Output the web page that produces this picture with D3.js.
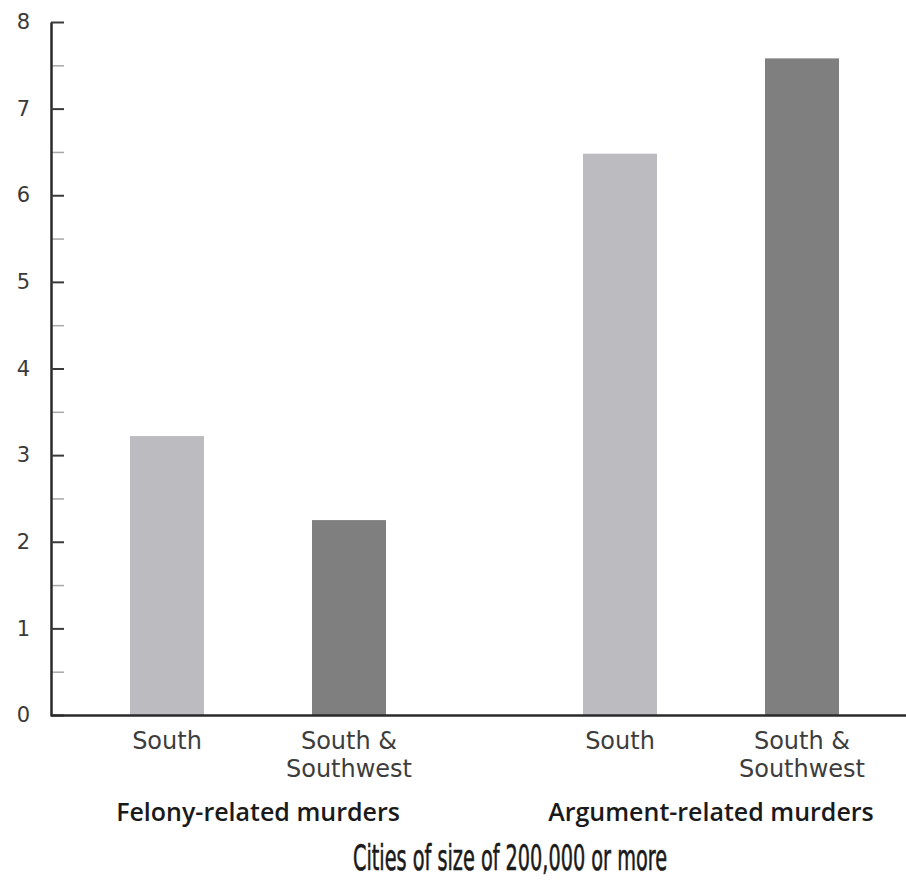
<!DOCTYPE html>
<html><head><meta charset="utf-8">
<script src="https://cdn.jsdelivr.net/npm/d3@7"></script>
<style>body{margin:0;background:#fff;} svg{display:block;}</style>
</head><body>
<svg id="c" width="906" height="890"></svg>
<script>
const groups = ["Felony-related murders", "Argument-related murders"];
const regions = ["South", "South & Southwest"];
const regionLines = [["South"], ["South &", "Southwest"]];
const felonyValues = [3.22, 2.25];
const argumentValues = [6.48, 7.58];
const majorTicks = [0, 1, 2, 3, 4, 5, 6, 7, 8];
const minorTicks = [0.5, 1.5, 2.5, 3.5, 4.5, 5.5, 6.5, 7.5];
const xTitle = "Cities of size of 200,000 or more";
const colors = ["#bcbcc0", "#7f7f7f"];

const seriesByGroup = [felonyValues, argumentValues];
const data = [];
groups.forEach((g, gi) => regions.forEach((r, ri) => data.push({g, r, ri, v: seriesByGroup[gi][ri]})));

const svg = d3.select("#c");
const axisX = 51, baseY = 715, topY = 22;
const y = d3.scaleLinear().domain([0, 8]).range([baseY, topY]);
const x0 = d3.scalePoint().domain(groups).range([258, 711]);
const x1 = d3.scalePoint().domain(regions).range([-91, 91]);
const barW = 74;
const font = "'DejaVu Sans', sans-serif";

svg.selectAll("rect.bar").data(data).join("rect")
  .attr("class", "bar")
  .attr("x", d => x0(d.g) + x1(d.r) - barW / 2)
  .attr("width", barW)
  .attr("y", d => y(d.v))
  .attr("height", d => y(0) - y(d.v))
  .attr("fill", d => colors[d.ri]);

// minor ticks
const minor = svg.append("g").attr("transform", `translate(${axisX},0)`)
  .call(d3.axisLeft(y).tickValues(minorTicks).tickSizeInner(-13).tickSizeOuter(0).tickFormat(""));
minor.select(".domain").remove();
minor.selectAll("line").attr("stroke", "#a8a8a8").attr("stroke-width", 1.5);

const major = svg.append("g").attr("transform", `translate(${axisX},0)`)
  .call(d3.axisLeft(y).tickValues(majorTicks).tickSizeInner(-13).tickSizeOuter(0).tickPadding(21).tickFormat(d3.format("d")));
major.select(".domain").attr("stroke", "#2a2a2a").attr("stroke-width", 2.5);
major.selectAll("line").attr("stroke", "#3a3a3a").attr("stroke-width", 2);
major.selectAll("text").attr("font-family", font).attr("font-size", 21).attr("fill", "#3a3a3a");

// x baseline
const xb = d3.scaleLinear().domain([0, 1]).range([axisX - 1, 906]);
svg.append("g").attr("transform", `translate(0,${baseY})`)
  .call(d3.axisBottom(xb).tickValues([]).tickSizeOuter(0))
  .select(".domain").attr("stroke", "#2a2a2a").attr("stroke-width", 2.5);

// category labels
data.forEach(d => {
  const lines = regionLines[d.ri];
  const t = svg.append("text").attr("x", x0(d.g) + x1(d.r)).attr("y", 749)
    .attr("text-anchor", "middle").attr("font-family", font).attr("font-size", 24)
    .attr("fill", "#3d3d3d");
  lines.forEach((l, i) => t.append("tspan").attr("x", x0(d.g) + x1(d.r)).attr("dy", i ? 28 : 0).text(l));
});

svg.selectAll("text.grp").data(groups).join("text").attr("class", "grp")
  .attr("x", d => x0(d)).attr("y", 821).attr("text-anchor", "middle")
  .attr("font-family", "'Open Sans', sans-serif").attr("font-size", 25).attr("font-weight", 600).attr("fill", "#1a1a1a")
  .text(d => d);

svg.append("text").attr("x", 510).attr("y", 870).attr("text-anchor", "middle")
  .attr("font-family", "'DejaVu Sans Condensed', 'DejaVu Sans', sans-serif")
  .attr("font-size", 35).attr("fill", "#1a1a1a")
  .attr("stroke", "#1a1a1a").attr("stroke-width", 0.6)
  .attr("textLength", 314).attr("lengthAdjust", "spacingAndGlyphs").text(xTitle);
</script>
</body></html>
